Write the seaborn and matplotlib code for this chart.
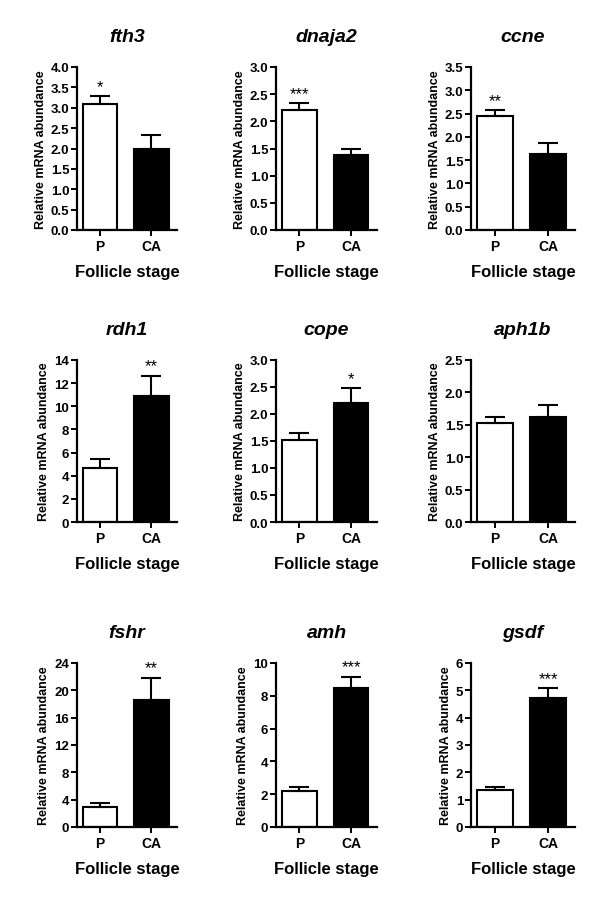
import numpy as np
import pandas as pd
import matplotlib
matplotlib.use("Agg")
import matplotlib.pyplot as plt
import seaborn as sns

# -----------------------------------------------------------------------------
# data (mean, SEM)

genes = ['fth3', 'dnaja2', 'ccne', 'rdh1', 'cope', 'aph1b', 'fshr', 'amh', 'gsdf']
stages = ['P', 'CA']

mean_P = [3.10, 2.20, 2.45, 4.70, 1.52, 1.53, 3.00, 2.20, 1.35]
mean_CA = [1.98, 1.38, 1.63, 10.90, 2.20, 1.62, 18.60, 8.50, 4.72]
sem_P = [0.18, 0.13, 0.12, 0.75, 0.13, 0.09, 0.50, 0.23, 0.10]
sem_CA = [0.35, 0.11, 0.23, 1.75, 0.28, 0.19, 3.20, 0.65, 0.35]

stars_P = ['*', '***', '**', '', '', '', '', '', '']
stars_CA = ['', '', '', '**', '*', '', '**', '***', '***']

ymax = [4.0, 3.0, 3.5, 14, 3.0, 2.5, 24, 10, 6]
ystep = [0.5, 0.5, 0.5, 2, 0.5, 0.5, 4, 2, 1]
ydec = [1, 1, 1, 0, 1, 1, 0, 0, 0]

# -----------------------------------------------------------------------------
sns.set_style("ticks")
plt.rcParams['font.family'] = ['Liberation Sans', 'DejaVu Sans']
plt.rcParams['font.weight'] = 'bold'
for k in ['text.color', 'axes.labelcolor', 'xtick.color', 'ytick.color',
          'axes.edgecolor']:
    plt.rcParams[k] = 'black'

W, H = 600, 904
fig = plt.figure(figsize=(6, 9.04), dpi=100)

col_x = [(77, 177), (276, 377), (471, 575)]
row_y = [(68, 231), (361, 523), (664, 828)]

for i, g in enumerate(genes):
    r, c = divmod(i, 3)
    x0, x1 = col_x[c]
    y0, y1 = row_y[r]
    ax = fig.add_axes([x0 / W, 1 - y1 / H, (x1 - x0) / W, (y1 - y0) / H])

    df = pd.DataFrame({'stage': stages, 'val': [mean_P[i], mean_CA[i]]})
    sns.barplot(data=df, x='stage', y='val', hue='stage',
                palette=['white', 'black'], edgecolor='black',
                linewidth=1.5, width=0.67, legend=False, ax=ax)

    errs = [sem_P[i], sem_CA[i]]
    ax.errorbar([0, 1], df['val'], yerr=[[0, 0], errs], fmt='none',
                ecolor='black', elinewidth=1.5, capsize=7.5, capthick=1.5,
                zorder=3)

    for xi, (v, e, s) in enumerate(zip(df['val'], errs, [stars_P[i], stars_CA[i]])):
        if s:
            ax.text(xi, v + e + ymax[i] * 0.015, s, ha='center', va='bottom',
                    fontsize=12, fontweight='normal')

    ax.set_xlim(-0.45, 1.5)
    ax.set_ylim(0, ymax[i])
    ticks = np.arange(0, ymax[i] + ystep[i] / 2, ystep[i])
    ax.set_yticks(ticks)
    ax.set_yticklabels([f'{t:.{ydec[i]}f}' for t in ticks])
    sns.despine(ax=ax)
    for sp in ['left', 'bottom']:
        ax.spines[sp].set_linewidth(1.6)
    ax.tick_params(width=1.4, length=4, labelsize=9.5, pad=1.5)
    ax.tick_params(axis='x', labelsize=10, pad=2.5)

    ax.set_xlabel('Follicle stage', fontsize=12, fontweight='bold', labelpad=8)
    ax.set_ylabel('Relative mRNA abundance', fontsize=9, fontweight='bold',
                  labelpad=3)
    ax.annotate(g, xy=(0.5, 1), xycoords='axes fraction', xytext=(0, 22),
                textcoords='offset points', ha='center', va='center',
                fontsize=14, fontweight='bold', fontstyle='italic')

fig.savefig('out.png', dpi=100, facecolor='white')
